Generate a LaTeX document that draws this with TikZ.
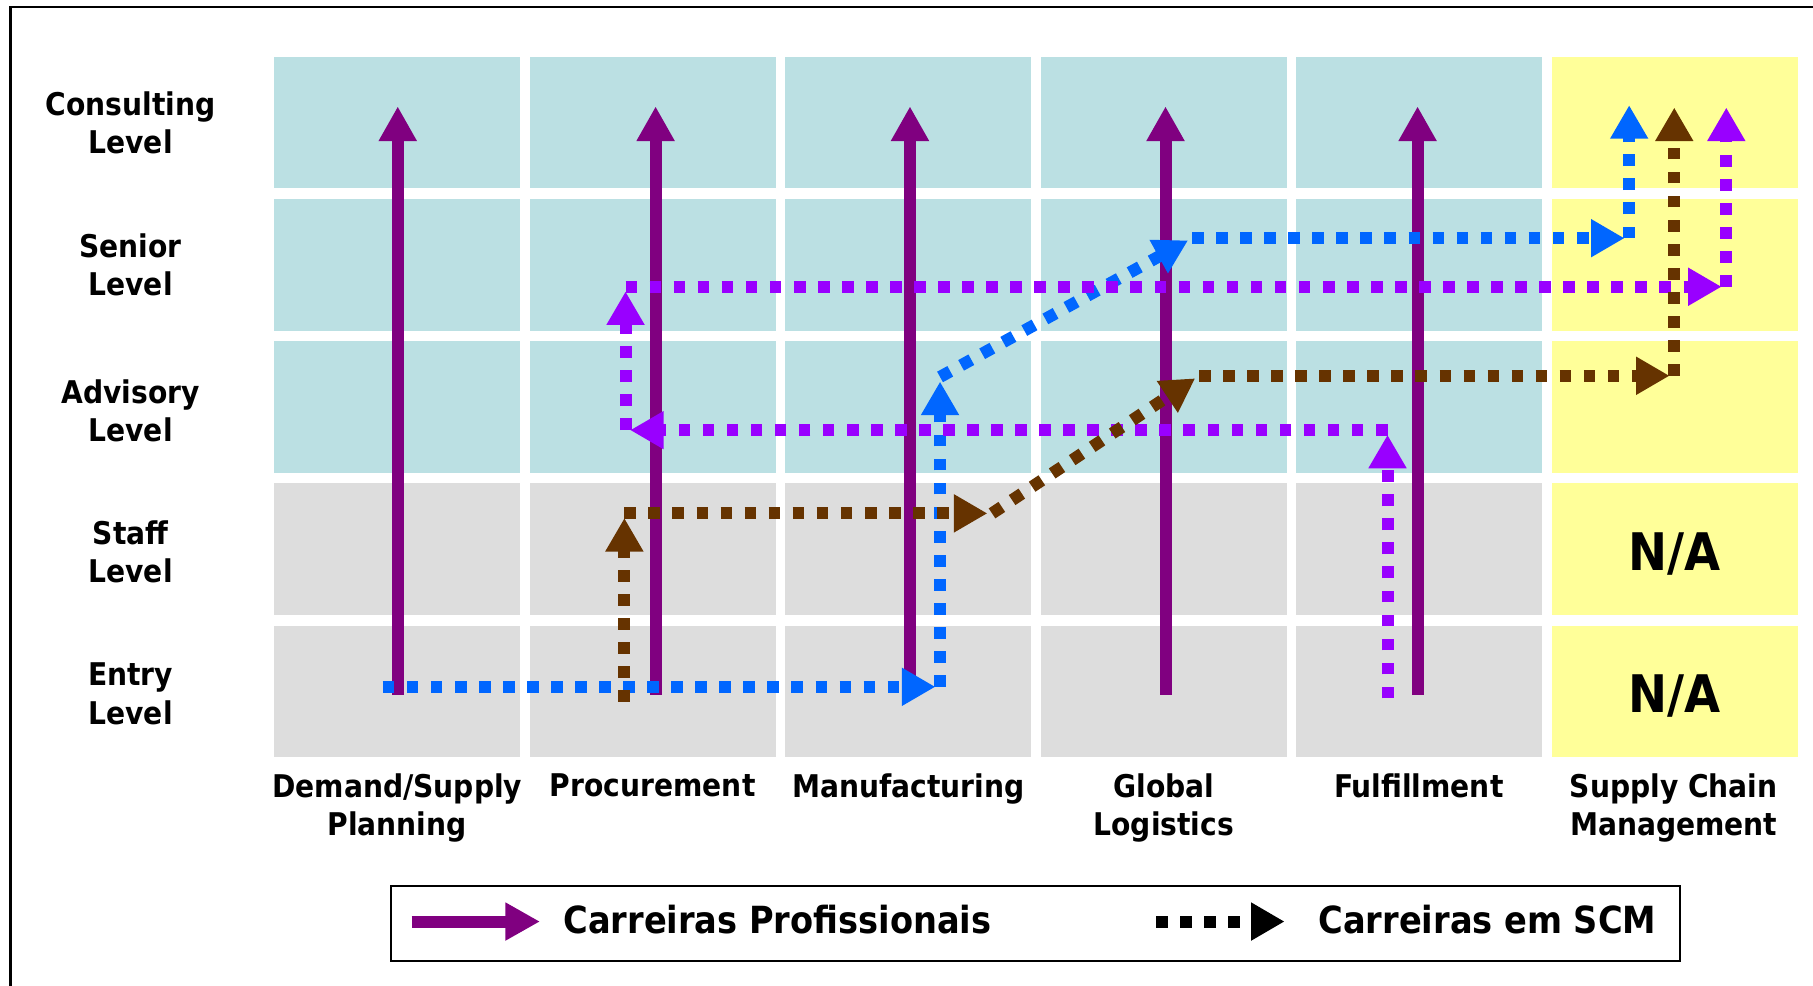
\documentclass[tikz,border=0pt]{standalone}
\usepackage{fontspec}
\setmainfont{DejaVu Sans Condensed}
\usetikzlibrary{arrows.meta}

\definecolor{cellteal}{RGB}{187,224,227}
\definecolor{cellgrey}{RGB}{221,221,221}
\definecolor{cellyellow}{RGB}{255,255,153}
\definecolor{careerpurple}{RGB}{128,0,128}
\definecolor{scmblue}{RGB}{0,102,255}
\definecolor{scmviolet}{RGB}{153,0,255}
\definecolor{scmbrown}{RGB}{102,51,0}

\newcommand{\lvlfont}{\fontsize{15.4pt}{18.8pt}\selectfont\bfseries}
\newcommand{\nafont}{\fontsize{25.5pt}{30pt}\selectfont\bfseries}
\newcommand{\keyfont}{\fontsize{18.4pt}{22pt}\selectfont\bfseries}

\begin{document}
\begin{tikzpicture}[x=0.02cm, y=-0.02cm,
  cell/.style={minimum width=4.26cm, minimum height=2.28cm, inner sep=0pt},
  lvl/.style={font=\lvlfont, align=center, inner sep=0pt},
  career/.style={careerpurple, line width=0.208cm, -{Triangle[width=0.62cm,length=0.6cm]}},
  scm/.style={line width=0.208cm, dash pattern=on 0.202cm off 0.214cm,
    -{Triangle[width=0.62cm,length=0.58cm]}, shorten >=0.08cm}]
%
% career grid: functions vs. levels

%% frame
\useasboundingbox (0,0) rectangle (1568,852);
\draw[line width=0.045cm] (9,900) -- (9,6) -- (1600,6);

%% cells
\foreach \c in {1,...,5}{
  \foreach \r in {1,2,3}
    \node[cell, fill=cellteal] (cell-\c-\r) at ({343.5+221*(\c-1)},{106+123*(\r-1)}) {};
  \foreach \r in {4,5}
    \node[cell, fill=cellgrey] (cell-\c-\r) at ({343.5+221*(\c-1)},{106+123*(\r-1)}) {};
}
\foreach \r in {1,...,5}
  \node[cell, fill=cellyellow] (cell-6-\r) at (1448.5,{106+123*(\r-1)}) {};
	\node[font=\nafont] (na-staff) at (1448.5,479) {N/A};
	\node[font=\nafont] (na-entry) at (1448.5,602) {N/A};

%% levels
\node[lvl] (consulting) at (113,106) {Consulting\\Level};
\node[lvl] (senior) at (113,229) {Senior\\Level};
\node[lvl] (advisory) at (113,355) {Advisory\\Level};
\node[lvl] (staff) at (113,477) {Staff\\Level};
\node[lvl] (entry) at (113,600) {Entry\\Level};

%% functions
\node[lvl, anchor=north] (demand) at (343.5,669) {Demand/Supply\\Planning};
\node[lvl, anchor=north] (procurement) at (564.5,669) {Procurement};
\node[lvl, anchor=north] (manufacturing) at (785.5,669) {Manufacturing};
\node[lvl, anchor=north] (logistics) at (1006.5,669) {Global\\Logistics};
\node[lvl, anchor=north] (fulfillment) at (1227,669) {Fulfillment};
\node[lvl, anchor=north] (scm) at (1447.5,669) {Supply Chain\\Management};

%% professional careers
\foreach \x [count=\i] in {344,567,787,1008,1226}{
  \coordinate (career-\i-a) at (\x,601);
  \coordinate (career-\i-b) at (\x,92);
  \draw[career] (career-\i-a) -- (career-\i-b);
}

%% scm careers, blue
\coordinate (b0) at (331,594);
\coordinate (b1) at (813,594);
\coordinate (b2) at (813,326);
\coordinate (b3) at (1031,206);
\coordinate (b4) at (1409,206);
\coordinate (b5) at (1409,87);
\draw[scm, scmblue] (b0) -- (b1);
\draw[scm, scmblue] (b1) -- (b2);
\draw[scm, scmblue] (b2) -- (b3);
\draw[scm, scmblue] (b3) -- (b4);
\draw[scm, scmblue] (b4) -- (b5);

%% scm careers, violet
\coordinate (v0) at (1200,604);
\coordinate (v1) at (1200,372);
\coordinate (v2) at (541,372);
\coordinate (v3) at (541,248);
\coordinate (v4) at (1493,248);
\coordinate (v5) at (1493,89);
\draw[scm, scmviolet] (v0) -- (v1);
\draw[scm, scmviolet] (v1) -- (v2);
\draw[scm, scmviolet] (v2) -- (v3);
\draw[scm, scmviolet] (v3) -- (v4);
\draw[scm, scmviolet] (v4) -- (v5);

%% scm careers, brown
\coordinate (r0) at (540,607);
\coordinate (r1) at (540,444);
\coordinate (r2) at (858,444);
\coordinate (r3) at (1037,325);
\coordinate (r4) at (1448,325);
\coordinate (r5) at (1448,89);
\draw[scm, scmbrown] (r0) -- (r1);
\draw[scm, scmbrown] (r1) -- (r2);
\draw[scm, scmbrown] (r2) -- (r3);
\draw[scm, scmbrown] (r3) -- (r4);
\draw[scm, scmbrown] (r4) -- (r5);

%% legend
\node[draw, line width=0.04cm, minimum width=22.3cm, minimum height=1.3cm] (legend) at (895.5,798.5) {};
\coordinate (key-career-a) at (356,797);
\coordinate (key-career-b) at (467,797);
\draw[career] (key-career-a) -- (key-career-b);
	\node[font=\keyfont, anchor=base west, inner sep=0pt] (key-career) at (487,807) {Carreiras Profissionais};
\coordinate (key-scm-a) at (1000,797);
\coordinate (key-scm-b) at (1115,797);
\draw[scm, black] (key-scm-a) -- (key-scm-b);
	\node[font=\keyfont, anchor=base west, inner sep=0pt] (key-scm) at (1140,807) {Carreiras em SCM};
\end{tikzpicture}
\end{document}
